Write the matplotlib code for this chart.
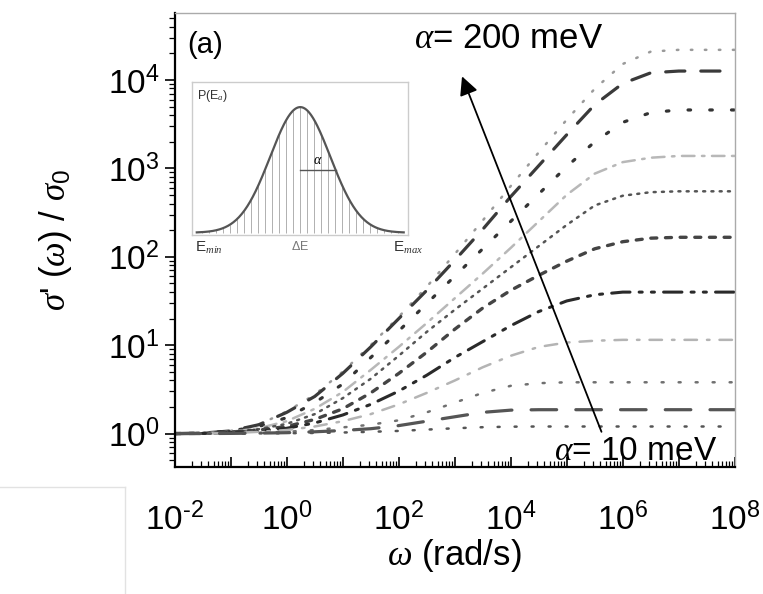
import numpy as np
import matplotlib.pyplot as plt
from matplotlib.lines import Line2D
from matplotlib.ticker import LogLocator, FuncFormatter, NullFormatter

plt.rcParams['font.family'] = ['Liberation Sans', 'DejaVu Sans']
plt.rcParams['mathtext.fontset'] = 'custom'
plt.rcParams['mathtext.rm'] = 'Liberation Sans'
plt.rcParams['mathtext.it'] = 'Liberation Serif:italic'

# log10 of omega (rad/s) where the curves were sampled
log_omega = [-2, -1.5, -1, -0.5, 0, 0.5, 1, 1.5, 2, 2.5, 3, 3.5,
             4, 4.5, 5, 5.5, 6, 6.5, 7, 7.5, 8]

# log10 of sigma'(omega)/sigma_0, alpha from 200 meV (top) down to 10 meV
c200 = [0, 0.005, 0.03, 0.10, 0.25, 0.44, 0.70, 1.00, 1.32, 1.66, 2.03, 2.41,
        2.80, 3.18, 3.55, 3.90, 4.18, 4.32, 4.34, 4.34, 4.34]
c180 = [0, 0.005, 0.03, 0.10, 0.24, 0.42, 0.68, 0.98, 1.30, 1.62, 1.96, 2.31,
        2.68, 3.03, 3.38, 3.72, 3.96, 4.08, 4.10, 4.10, 4.10]
c160 = [0, 0.005, 0.03, 0.08, 0.18, 0.35, 0.56, 0.86, 1.16, 1.47, 1.78, 2.09,
        2.40, 2.71, 3.02, 3.30, 3.52, 3.63, 3.66, 3.66, 3.66]
c140 = [0, 0.004, 0.02, 0.06, 0.14, 0.28, 0.47, 0.72, 0.98, 1.25, 1.53, 1.81,
        2.10, 2.40, 2.70, 2.94, 3.07, 3.12, 3.14, 3.14, 3.14]
c120 = [0, 0.003, 0.02, 0.05, 0.11, 0.22, 0.40, 0.62, 0.88, 1.15, 1.40, 1.64,
        1.88, 2.12, 2.36, 2.58, 2.69, 2.73, 2.74, 2.74, 2.74]
c100 = [0, 0.003, 0.015, 0.04, 0.08, 0.16, 0.28, 0.46, 0.68, 0.92, 1.18, 1.42,
        1.62, 1.79, 1.95, 2.09, 2.17, 2.21, 2.22, 2.22, 2.22]
c80 = [0, 0.002, 0.01, 0.03, 0.06, 0.12, 0.21, 0.33, 0.48, 0.66, 0.86, 1.04,
       1.22, 1.38, 1.50, 1.57, 1.60, 1.60, 1.60, 1.60, 1.60]
c60 = [0, 0.001, 0.005, 0.02, 0.04, 0.08, 0.14, 0.22, 0.33, 0.46, 0.60, 0.75,
       0.88, 0.98, 1.03, 1.05, 1.06, 1.06, 1.06, 1.06, 1.06]
c40 = [0, 0, 0.003, 0.01, 0.02, 0.04, 0.07, 0.10, 0.15, 0.24, 0.35, 0.46,
       0.54, 0.57, 0.58, 0.58, 0.58, 0.58, 0.58, 0.58, 0.58]
c20 = [0, 0, 0.002, 0.005, 0.01, 0.02, 0.035, 0.055, 0.09, 0.14, 0.19, 0.24,
       0.265, 0.27, 0.27, 0.27, 0.27, 0.27, 0.27, 0.27, 0.27]
c10 = [0, 0, 0, 0.002, 0.004, 0.007, 0.012, 0.02, 0.03, 0.045, 0.06, 0.072,
       0.078, 0.08, 0.08, 0.08, 0.08, 0.08, 0.08, 0.08, 0.08]

curves = [c200, c180, c160, c140, c120, c100, c80, c60, c40, c20, c10]
colors = ['#9a9a9a', '#3a3a3a', '#333333', '#b8b8b8', '#555555', '#444444',
          '#2a2a2a', '#b4b4b4', '#707070', '#555555', '#555555']
widths = [1.8, 2.3, 2.3, 1.8, 1.8, 2.4, 2.2, 1.8, 1.8, 2.3, 1.8]
dash_styles = [(0.6, 5), (6, 5), (0.8, 6), (5, 3, 1, 3), (0.8, 2.5), (1.8, 2.6),
               (6, 3, 1, 3, 1, 3), (5, 4, 1, 4), (0.8, 6), (8, 6), (0.8, 6)]

fig = plt.figure(figsize=(7.63, 5.94), dpi=100)
ax = fig.add_axes([0.229, 0.214, 0.734, 0.764])

omega = 10.0 ** np.array(log_omega)
for vals, col, lw, ds in zip(curves, colors, widths, dash_styles):
    ax.plot(omega, 10.0 ** np.array(vals), color=col, lw=lw,
            dashes=ds, dash_capstyle='round')

ax.set_xscale('log')
ax.set_yscale('log')
ax.set_xlim(1e-2, 1e8)
ax.set_ylim(0.42, 5.7e4)

def sci_label(v, pos, skip_odd=False):
    e = int(round(np.log10(v)))
    if skip_odd and e % 2:
        return ''
    if e < 0:
        return r'$\mathregular{10^{\text{-}%d}}$' % (-e)
    return r'$\mathregular{10^{%d}}$' % e

ax.xaxis.set_major_locator(LogLocator(base=10, numticks=20))
ax.xaxis.set_minor_locator(LogLocator(base=10, subs=np.arange(2, 10), numticks=20))
ax.xaxis.set_major_formatter(FuncFormatter(lambda v, p: sci_label(v, p, True)))
ax.xaxis.set_minor_formatter(NullFormatter())
ax.yaxis.set_major_locator(LogLocator(base=10, numticks=20))
ax.yaxis.set_minor_locator(LogLocator(base=10, subs=np.arange(2, 10), numticks=20))
ax.yaxis.set_major_formatter(FuncFormatter(sci_label))
ax.yaxis.set_minor_formatter(NullFormatter())

ax.tick_params(axis='x', which='major', direction='in', length=7, width=1.2,
               labelsize=24, pad=26)
ax.tick_params(axis='x', which='minor', direction='in', length=4, width=0.9)
ax.tick_params(axis='y', which='major', direction='out', length=7, width=1.2,
               labelsize=24, pad=4)
ax.tick_params(axis='y', which='minor', direction='out', length=4, width=0.9)

for side in ['left', 'bottom']:
    ax.spines[side].set_linewidth(1.6)
for side in ['top', 'right']:
    ax.spines[side].set_color('#aaaaaa')
    ax.spines[side].set_linewidth(1.0)

ax.set_xlabel(r'$\omega$ (rad/s)', fontsize=25, labelpad=0)
ax.set_ylabel(r"$\sigma$' ($\omega$) / $\sigma_0$", fontsize=25, labelpad=24)

ax.text(0.023, 0.93, '(a)', transform=ax.transAxes, fontsize=21,
        ha='left', va='center')
ax.text(0.427, 0.945, r'$\alpha$= 200 meV', transform=ax.transAxes,
        fontsize=25, ha='left', va='center')
ax.text(0.677, 0.035, r'$\alpha$= 10 meV', transform=ax.transAxes,
        fontsize=24, ha='left', va='center')
ax.annotate('', xy=(10 ** 3.13, 10 ** 4.04), xytext=(10 ** 5.62, 10 ** 0.02),
            arrowprops=dict(arrowstyle='-|>', lw=1.3, color='black',
                            mutation_scale=28, shrinkA=0, shrinkB=0))

# inset: gaussian distribution of activation energies
ins = fig.add_axes([0.252, 0.604, 0.283, 0.258])
e = np.linspace(-3.45, 3.45, 300)
p = np.exp(-e ** 2 / 2)
e_hatch = np.arange(-3.27, 3.3, 0.233)
ins.vlines(e_hatch, 0, np.exp(-e_hatch ** 2 / 2), color='#b0b0b0', lw=0.7)
ins.plot(e, p, color='#555555', lw=1.6)
ins.plot([0, 1.18], [0.5, 0.5], color='#555555', lw=1.0)
ins.text(0.58, 0.52, r'$\alpha$', fontsize=10, ha='center', va='bottom')
ins.set_xlim(-3.6, 3.6)
ins.set_ylim(-0.02, 1.2)
ins.set_xticks([])
ins.set_yticks([])
for sp in ins.spines.values():
    sp.set_color('#cccccc')
    sp.set_linewidth(1.0)
ins.text(0.02, 0.96, r'P(E$_a$)', transform=ins.transAxes, fontsize=9,
         ha='left', va='top', color='#333333')
ins.text(0.075, -0.03, r'E$_{min}$', transform=ins.transAxes, fontsize=11,
         ha='center', va='top', color='#333333')
ins.text(0.5, -0.03, r'$\Delta$E', transform=ins.transAxes, fontsize=9,
         ha='center', va='top', color='#777777')
ins.text(1.0, -0.03, r'E$_{max}$', transform=ins.transAxes, fontsize=11,
         ha='center', va='top', color='#333333')

# faint border left over from the page layout
y_edge = 1 - 487 / 594
x_edge = 125 / 763
fig.add_artist(Line2D([0, x_edge], [y_edge, y_edge], transform=fig.transFigure,
                      color='#e2e2e2', lw=1))
fig.add_artist(Line2D([x_edge, x_edge], [y_edge, 0], transform=fig.transFigure,
                      color='#e2e2e2', lw=1))

fig.savefig('out.png', dpi=100)
